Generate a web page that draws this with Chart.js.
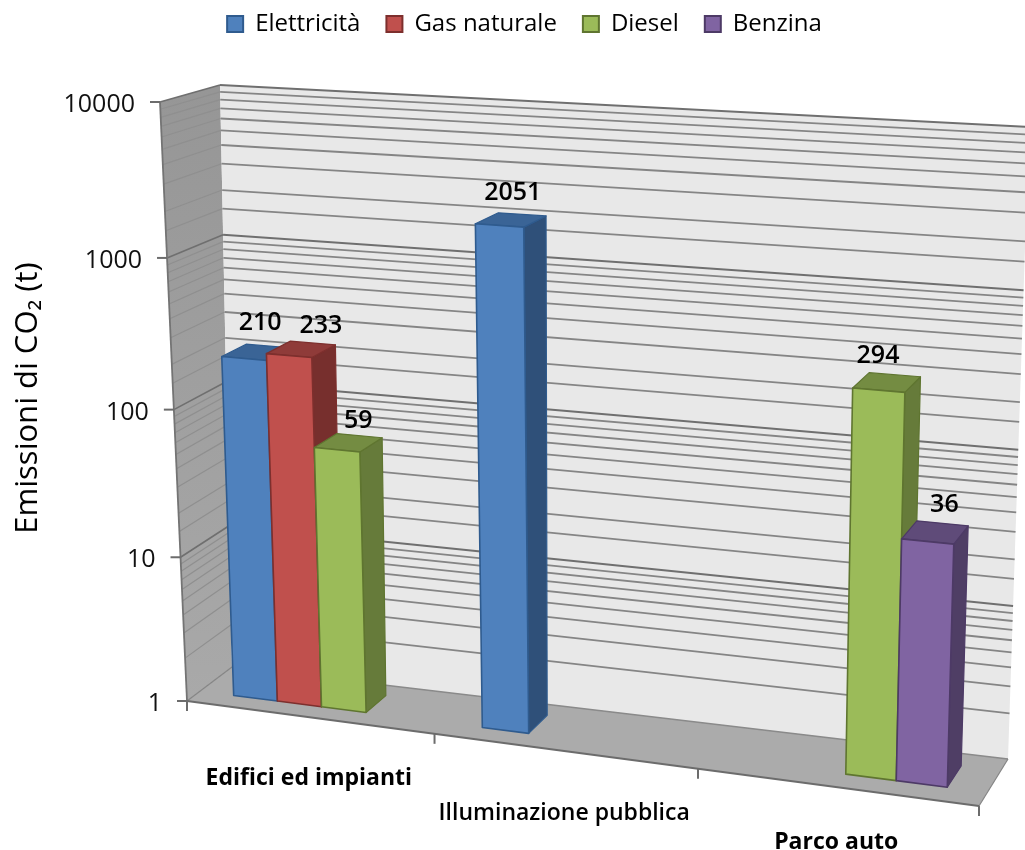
<!doctype html>
<html lang="it">

<head>
  <title>Emissioni di CO2</title>
  <meta charset="utf-8">
  <style>
    body { margin: 0; background: #fff; }
    canvas { display: block; }
  </style>
  <script src="https://cdn.jsdelivr.net/npm/chart.js@4"></script>
</head>

<body>
  <canvas id="co2Chart" width="1025" height="850"></canvas>

  <script>
    // Chart data
    var categories = ['Edifici ed impianti', 'Illuminazione pubblica', 'Parco auto'];
    var elettricita = [210, 2051, null];
    var gasNaturale = [233, null, null];
    var diesel = [59, null, 294];
    var benzina = [null, null, 36];
    var yTicks = [1, 10, 100, 1000, 10000];

    var FONT = '"Open Sans"';

    // colours: face, outline, top, side
    var seriesStyles = [
      ['#4f81bd', '#2f5b8e', '#3a6496', '#2f5079'],
      ['#c0504d', '#7d2f2d', '#8f3b39', '#772f2d'],
      ['#9bbb59', '#5f7530', '#748c42', '#667b3a'],
      ['#8064a2', '#4d3a66', '#5f4b79', '#4f3e65']
    ];

    // where the box of the 3D chart lands on the page: tl, tr, br, bl
    var frontQuad = [[160, 102], [998, 150], [979, 806], [187, 701]];
    var backQuad = [[220, 85], [1029, 127], [1008, 759], [232, 667]];
    var barDepth = [0.29, 0.75];

    // small shifts of the value labels, from the top of each bar
    var labelShift = { '0-0': [5, -30], '1-0': [21, -24], '2-0': [11, -22], '0-1': [3, -28], '2-2': [-8, -27], '3-2': [10, -28] };
    // how far each category label hangs below the floor edge
    var categoryDrop = [61, 62, 55];

    function homography(q) {
      var dx1 = q[1][0] - q[2][0], dx2 = q[3][0] - q[2][0], sx = q[0][0] - q[1][0] + q[2][0] - q[3][0];
      var dy1 = q[1][1] - q[2][1], dy2 = q[3][1] - q[2][1], sy = q[0][1] - q[1][1] + q[2][1] - q[3][1];
      var det = dx1 * dy2 - dx2 * dy1;
      var g = (sx * dy2 - dx2 * sy) / det, h = (dx1 * sy - sx * dy1) / det;
      var a = q[1][0] - q[0][0] + g * q[1][0], b = q[3][0] - q[0][0] + h * q[3][0];
      var d = q[1][1] - q[0][1] + g * q[1][1], e = q[3][1] - q[0][1] + h * q[3][1];
      return function (u, v) {
        var w = g * u + h * v + 1;
        return [(a * u + b * v + q[0][0]) / w, (d * u + e * v + q[0][1]) / w];
      };
    }
    var frontMap = homography(frontQuad);
    var backMap = homography(backQuad);

    function project(u, v, z) {
      var f = frontMap(u, v), b = backMap(u, v);
      return [f[0] + (b[0] - f[0]) * z, f[1] + (b[1] - f[1]) * z];
    }

    function poly(ctx, pts, fill, stroke, lw) {
      ctx.beginPath();
      pts.forEach(function (p, i) { if (i) ctx.lineTo(p[0], p[1]); else ctx.moveTo(p[0], p[1]); });
      ctx.closePath();
      if (fill) { ctx.fillStyle = fill; ctx.fill(); }
      if (stroke) { ctx.strokeStyle = stroke; ctx.lineWidth = lw || 1; ctx.lineJoin = 'round'; ctx.stroke(); }
    }

    function line(ctx, a, b, color, lw) {
      ctx.beginPath();
      ctx.moveTo(a[0], a[1]);
      ctx.lineTo(b[0], b[1]);
      ctx.strokeStyle = color;
      ctx.lineWidth = lw;
      ctx.stroke();
    }

    var box3d = {
      id: 'box3d',
      beforeDatasetsDraw: function (chart) {
        var ctx = chart.ctx, area = chart.chartArea, yScale = chart.scales.y;
        var uOf = function (px) { return (px - area.left) / (area.right - area.left); };
        var vOf = function (val) { return (yScale.getPixelForValue(val) - yScale.top) / (yScale.bottom - yScale.top); };

        // walls and floor
        var wall = ctx.createLinearGradient(0, 90, 0, 700);
        wall.addColorStop(0, '#969696');
        wall.addColorStop(1, '#a9a9a9');
        poly(ctx, [project(0, 0, 0), project(0, 0, 1), project(0, 1, 1), project(0, 1, 0)], wall);
        poly(ctx, [project(0, 0, 1), project(1, 0, 1), project(1, 1, 1), project(0, 1, 1)], '#e8e8e8');
        poly(ctx, [project(0, 1, 0), project(0, 1, 1), project(1, 1, 1), project(1, 1, 0)], '#ababab');

        // grid lines from the log scale ticks
        yScale.ticks.forEach(function (tick) {
          var v = vOf(tick.value);
          var major = yTicks.indexOf(tick.value) >= 0;
          if (tick.value > 1) {
            line(ctx, project(0, v, 1), project(1, v, 1), major ? '#6f6f6f' : '#858585', major ? 2 : 1.8);
            line(ctx, project(0, v, 0), project(0, v, 1), major ? '#6f6f6f' : '#8f8f8f', major ? 1.6 : 1.2);
          }
        });
        line(ctx, project(0, 1, 1), project(1, 1, 1), '#8a8a8a', 1.5);
        line(ctx, project(0, 1, 0), project(0, 1, 1), '#858585', 1.2);
        line(ctx, project(1, 1, 0), project(1, 1, 1), '#858585', 1.2);

        // axis lines and tick marks
        line(ctx, project(0, 0, 0), project(0, 1, 0), '#747474', 1.8);
        line(ctx, project(0, 1, 0), project(1, 1, 0), '#6c6c6c', 2);
        yTicks.forEach(function (val) {
          var p = project(0, vOf(val), 0);
          line(ctx, [p[0] - 10, p[1]], p, '#6c6c6c', 2);
        });
        for (var c = 0; c <= categories.length; c++) {
          var q = project(c / categories.length, 1, 0);
          line(ctx, q, [q[0], q[1] + 10], '#6c6c6c', 2);
        }

        // bars, one dataset at a time so that the next one covers the side of the last
        chart.data.datasets.forEach(function (ds, si) {
          var meta = chart.getDatasetMeta(si);
          var st = seriesStyles[si];
          meta.data.forEach(function (bar, i) {
            if (ds.data[i] === null) return;
            var u0 = uOf(bar.x - bar.width / 2), u1 = uOf(bar.x + bar.width / 2);
            var vt = vOf(ds.data[i]), vb = 1;
            var z0 = barDepth[0], z1 = barDepth[1];
            poly(ctx, [project(u1, vt, z0), project(u1, vt, z1), project(u1, vb, z1), project(u1, vb, z0)], st[3], st[1], 1.2);
            poly(ctx, [project(u0, vt, z0), project(u0, vt, z1), project(u1, vt, z1), project(u1, vt, z0)], st[2], st[1], 1.2);
            poly(ctx, [project(u0, vt, z0), project(u1, vt, z0), project(u1, vb, z0), project(u0, vb, z0)], st[0], st[1], 1.6);
          });
        });

        // value labels
        ctx.fillStyle = '#000';
        ctx.font = '600 25px ' + FONT;
        ctx.textAlign = 'center';
        ctx.textBaseline = 'middle';
        chart.data.datasets.forEach(function (ds, si) {
          chart.getDatasetMeta(si).data.forEach(function (bar, i) {
            if (ds.data[i] === null) return;
            var p = project(uOf(bar.x), vOf(ds.data[i]), 0.5);
            var s = labelShift[si + '-' + i];
            ctx.fillText(String(ds.data[i]), p[0] + s[0], p[1] + s[1]);
          });
        });

        // y tick labels
        ctx.font = '400 25px ' + FONT;
        ctx.fillStyle = '#111';
        ctx.textAlign = 'right';
        yTicks.forEach(function (val) {
          var p = project(0, vOf(val), 0);
          ctx.fillText(String(val), p[0] - 25, p[1] + 3);
        });

        // category labels under the front edge of the floor
        ctx.fillStyle = '#000';
        ctx.textAlign = 'center';
        categories.forEach(function (name, i) {
          ctx.font = (i === 1 ? '600 23px ' : '700 23px ') + FONT;
          var p = project((i + 0.5) / categories.length, 1, 0);
          ctx.fillText(name, p[0], p[1] + categoryDrop[i]);
        });

        return false;
      }
    };

    var seriesLabels = ['Elettricità', 'Gas naturale', 'Diesel', 'Benzina'];
    var seriesValues = [elettricita, gasNaturale, diesel, benzina];

    new Chart(document.getElementById('co2Chart'), {
      type: 'bar',
      data: {
        labels: categories,
        datasets: seriesValues.map(function (vals, i) {
          return {
            label: seriesLabels[i],
            data: vals,
            backgroundColor: seriesStyles[i][0],
            borderColor: seriesStyles[i][1],
            borderWidth: 2,
            categoryPercentage: 0.72,
            barPercentage: 1
          };
        })
      },
      options: {
        responsive: false,
        animation: false,
        layout: { padding: { left: 10, top: -14, bottom: 100, right: -14 } },
        plugins: {
          tooltip: { enabled: false },
          legend: {
            position: 'top',
            labels: { boxWidth: 16, boxHeight: 16, padding: 26, color: '#000', font: { family: FONT, size: 24 } }
          }
        },
        scales: {
          x: { display: false },
          y: {
            type: 'logarithmic',
            min: 1,
            max: 10000,
            grid: { display: false },
            border: { display: false },
            ticks: { display: false },
            title: { display: true, text: 'Emissioni di CO₂ (t)', color: '#000', font: { family: FONT, size: 31 }, padding: 0 }
          }
        }
      },
      plugins: [box3d]
    });
  </script>
</body>

</html>
